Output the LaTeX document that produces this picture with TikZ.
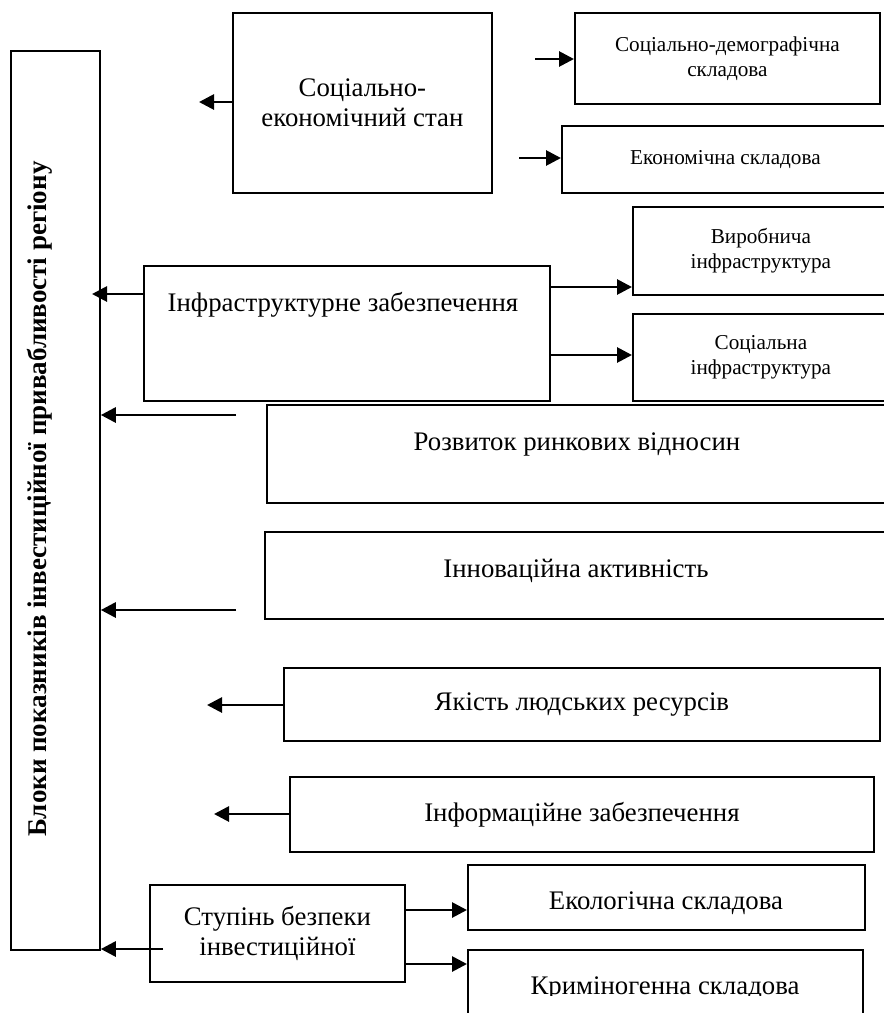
\documentclass[tikz,border=0pt]{standalone}
\usepackage{fontspec}
\setmainfont{Liberation Serif}
\usetikzlibrary{positioning,arrows.meta}

\begin{document}
\begin{tikzpicture}
            [x=0.5pt,y=-0.5pt,
             every node/.style={inner sep=0pt, align=center, font=\fontsize{13.4}{15}\selectfont},
             box/.style={draw, line width=0.9pt, anchor=north west},
             small/.style={font=\fontsize{10.6}{12.5}\selectfont},
             arr/.style={line width=1.4pt, -{Triangle[length=7.5pt,width=7.5pt]}}]
            \useasboundingbox (0,0) rectangle (884,1013);
            \clip (0,0) rectangle (884,1013);

            \node[box, minimum width=44.5pt, minimum height=449.5pt] (blok) at (10,50) {};
            \node[rotate=90, font=\fontsize{13.5}{15}\selectfont\bfseries] (blokt) at (40,499) {Блоки показників інвестиційної привабливості регіону};

            \node[box, minimum width=129.5pt, minimum height=90pt] (socek) at (232,12) {Соціально-\\економічний стан};
            \node[box, small, minimum width=152.5pt, minimum height=45.5pt] (socdem) at (574,12) {Соціально-демографічна\\складова};
            \node[box, small, minimum width=163.5pt, minimum height=33.5pt] (ekon) at (561,125) {Економічна складова};
            \node[box, small, minimum width=128pt, minimum height=44pt] (vyrob) at (632,206) {Виробнича\\інфраструктура};
            \node[box, small, minimum width=128pt, minimum height=43.5pt] (socinf) at (632,313) {Соціальна\\інфраструктура};
            \node[box, minimum width=203pt, minimum height=67.5pt] (infr) at (143,265) {};
            \node (infrt) at (343,305) {Інфраструктурне забезпечення};
            \node[box, minimum width=311pt, minimum height=49pt] (rozv) at (266,404) {};
            \node (rozvt) at (577,444) {Розвиток ринкових відносин};
            \node[box, minimum width=312pt, minimum height=43.5pt] (innov) at (264,531) {};
            \node (innovt) at (576,571) {Інноваційна активність};
            \node[box, minimum width=298pt, minimum height=36.5pt] (yakist) at (283,667) {Якість людських ресурсів};
            \node[box, minimum width=292pt, minimum height=37.5pt] (inform) at (289,776) {Інформаційне забезпечення};
            \node[box, minimum width=127.5pt, minimum height=48.5pt] (stup) at (149,884) {Ступінь безпеки\\інвестиційної};
            \node[box, minimum width=198.5pt, minimum height=32.5pt] (ekol) at (467,864) {};
            \node (ekolt) at (666,903) {Екологічна складова};
            \node[box, minimum width=197.5pt, minimum height=40.5pt] (krym) at (467,949) {};
            \begin{scope}
              \clip (467,940) rectangle (884,995);
              \node[anchor=base] (krymt) at (665,994) {Криміногенна складова};
            \end{scope}

            % free ends of the arrows
            \coordinate (l1) at (199,102);
            \coordinate (l2) at (207,705);
            \coordinate (l3) at (214,814);
            \coordinate (l4) at (92,294);
            \coordinate (r1) at (236,415);
            \coordinate (r2) at (236,610);
            \coordinate (r3) at (163,949);
            \coordinate (s1) at (535,59);
            \coordinate (s2) at (519,158);

            \foreach \from/\c in {socek/l1, yakist/l2, inform/l3, infr/l4}
            \draw[arr] (\c -| \from.west) -- (\c);
            \foreach \c in {r1, r2, r3}
            \draw[arr] (\c) -- (\c -| blok.east);
            \foreach \c/\to in {s1/socdem, s2/ekon}
            \draw[arr] (\c) -- (\c -| \to.west);
            \foreach \from/\to/\y in {infr/vyrob/287, infr/socinf/355, stup/ekol/910, stup/krym/964}
            \draw[arr] (\from.east |- 0,\y) -- (\to.west |- 0,\y);
          \end{tikzpicture}
\end{document}
